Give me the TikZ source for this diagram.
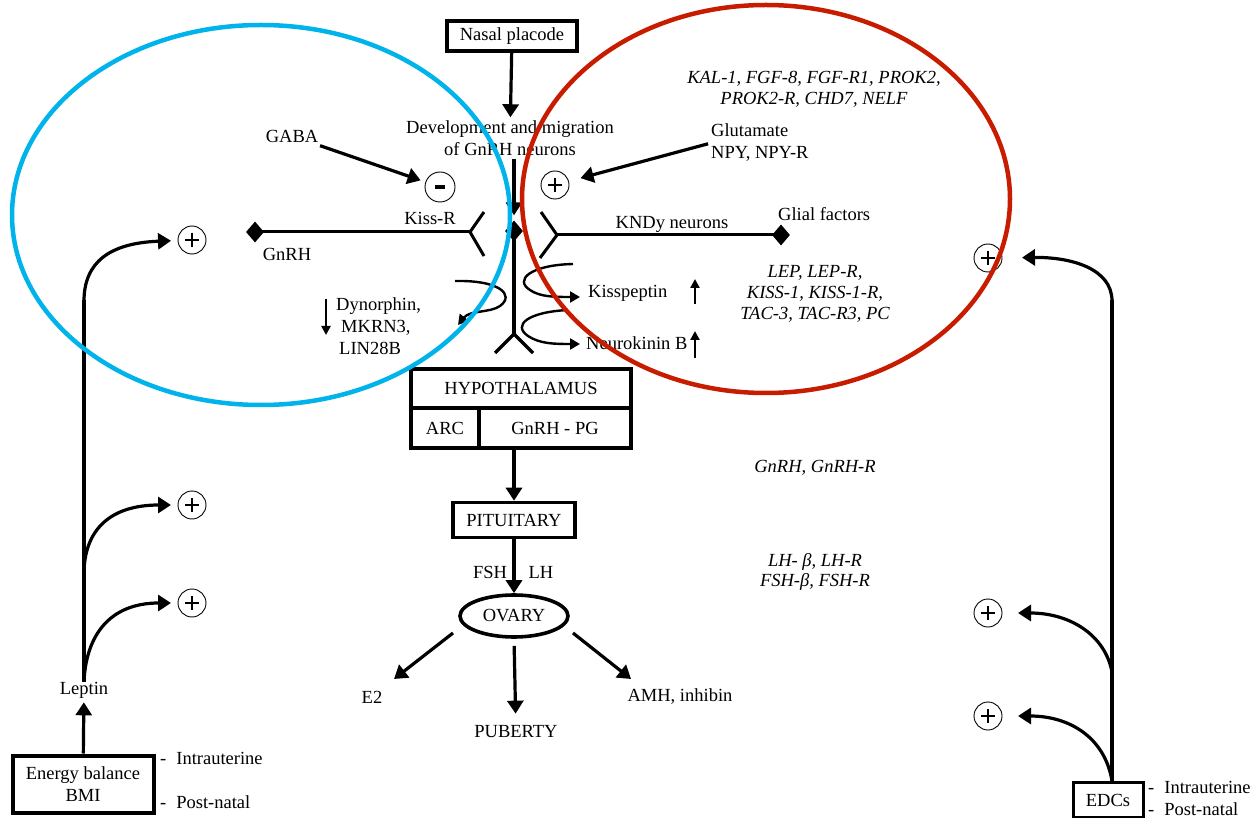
\documentclass[tikz,border=0pt]{standalone}
\usepackage{fontspec}
\setmainfont{Liberation Serif}
\usetikzlibrary{arrows.meta,shapes.geometric}
\definecolor{cyanring}{RGB}{0,180,235}
\definecolor{redring}{RGB}{200,28,0}
\begin{document}
\begin{tikzpicture}[x=1pt,y=-1pt,font=\fontsize{18.5}{22}\selectfont,
  arr/.style={line width=3.2pt,-{Triangle[length=13pt,width=16pt]}},
  sarr/.style={line width=2.6pt,-{Triangle[length=9pt,width=9pt]}},
  ln/.style={line width=3.2pt},
  rec/.style={line width=3pt},
  lbl/.style={inner sep=0pt},
  box/.style={draw,line width=3.6pt,inner sep=0pt},
  dmd/.style={diamond,fill,inner sep=0pt,minimum width=18pt,minimum height=21pt},
  sign/.style={circle,draw,line width=0.9pt,minimum size=28pt,inner sep=0pt},
  plus/.style={sign,path picture={
     \draw[line width=2.6pt] (path picture bounding box.center) +(-7,0) -- +(7,0);
     \draw[line width=2.6pt] (path picture bounding box.center) +(0,-7) -- +(0,7);}},
  minus/.style={sign,minimum size=30pt,path picture={
     \draw[line width=3.2pt] (path picture bounding box.center) +(-5,0) -- +(5,0);}},
  ring/.style={line width=4.5pt}]
\useasboundingbox (0,0) rectangle (1259,818);

% top
\node[box,minimum width=130pt,minimum height=30pt] (nasal) at (512,36) {Nasal placode};
\node[lbl,align=center,inner sep=3pt] (dev) at (510,138) {Development and migration\\of GnRH neurons};
\node[dmd] (cdia) at (514,231) {};
\draw[arr] (nasal) -- (dev);
\draw[arr,shorten >=5pt] (dev.south -| cdia.north) -- (cdia.north);

% central stem and fork
\coordinate (fork) at (514,334);
\coordinate (forkL) at (495,353);
\coordinate (forkR) at (533,353);
\draw[ln] (cdia.center) -- (fork);
\draw[ln] (forkL) -- (fork) -- (forkR);

% signs
\node[minus] (mn) at (440,187) {};
\node[plus] (pl1) at (555,185) {};
\node[lbl] (gaba) at (292,136) {GABA};
\node[lbl,anchor=west,align=left] (glut) at (711,143) {Glutamate\\NPY, NPY-R};
\draw[arr,shorten <=10pt,shorten >=5pt] (gaba) -- (mn);
\draw[arr,shorten <=3pt,shorten >=12pt] (glut.west) -- (pl1);

% left receptor
\node[dmd] (gdia) at (255,232) {};
\coordinate (lrv) at (470,232);
\coordinate (lru) at (484,212);
\coordinate (lrd) at (484,256);
\draw[rec] (gdia.center) -- (lrv);
\draw[rec] (lru) -- (lrv) -- (lrd);
\node[lbl] (kissr) at (430,218) {Kiss-R};
\node[lbl] (gnrh) at (287,254) {GnRH};

% right receptor
\node[dmd] (rdia) at (781,235) {};
\coordinate (rrv) at (557,235);
\coordinate (rru) at (541,212);
\coordinate (rrd) at (540,258);
\draw[rec] (rdia.center) -- (rrv);
\draw[rec] (rru) -- (rrv) -- (rrd);
\node[lbl] (kndy) at (672,224) {KNDy neurons};
\node[lbl,anchor=west] (glial) at (778,214) {Glial factors};

% coils
\coordinate (c1s) at (455,281);
\coordinate (c1e) at (458,325);
\draw[line width=2.4pt,-{Triangle[length=10pt,width=11pt]}] (c1s) .. controls (500,280) and (515,295) .. (500,306) .. controls (490,313) and (470,310) .. (c1e);
\coordinate (c2s) at (573,264);
\coordinate (c2e) at (580,297);
\draw[line width=2.4pt,-{Triangle[length=10pt,width=11pt]}] (c2s) .. controls (530,265) and (514,280) .. (530,290) .. controls (540,297) and (555,297) .. (c2e);
\coordinate (c3s) at (568,310);
\coordinate (c3e) at (580,344);
\draw[line width=2.4pt,-{Triangle[length=10pt,width=11pt]}] (c3s) .. controls (528,312) and (512,325) .. (528,336) .. controls (540,344) and (555,344) .. (c3e);

\node[lbl,anchor=west] (kiss) at (588,293) {Kisspeptin};
\node[lbl,anchor=west] (nkb) at (586,343) {Neurokinin B};
\coordinate (ua1s) at (695,304); \coordinate (ua1e) at (695,279);
\coordinate (ua2s) at (695,358); \coordinate (ua2e) at (695,331);
\draw[sarr] (ua1s) -- (ua1e);
\draw[sarr] (ua2s) -- (ua2e);

\node[lbl,anchor=west,align=left] (dyn) at (336,326) {Dynorphin,\\\hspace{5pt}MKRN3,\\\hspace{3pt}LIN28B};
\coordinate (da1s) at (326,299); \coordinate (da1e) at (326,335);
\draw[sarr] (da1s) -- (da1e);

% italic gene lists
\node[lbl,align=center,font=\fontsize{18.5}{21}\selectfont\itshape] (genes1) at (814,89) {KAL-1, FGF-8, FGF-R1, PROK2,\\PROK2-R, CHD7, NELF};
\node[lbl,align=center,font=\fontsize{18.5}{21}\selectfont\itshape] (genes2) at (815,294) {LEP, LEP-R,\\KISS-1, KISS-1-R,\\TAC-3, TAC-R3, PC};
\node[lbl,font=\fontsize{18.5}{21}\selectfont\itshape] (genes3) at (815,468) {GnRH, GnRH-R};
\node[lbl,align=center,font=\fontsize{18.5}{20}\selectfont\itshape] (genes4) at (815,572) {LH- \textit{β}, LH-R\\FSH-\textit{β}, FSH-R};

% hypothalamus
\node[box,minimum width=220pt,minimum height=39pt] (hyp) at (521,388.5) {HYPOTHALAMUS};
\node[box,minimum width=68pt,minimum height=40pt] (arc) at (445,428) {ARC};
\node[box,minimum width=152pt,minimum height=40pt] (gpg) at (555,428) {GnRH - PG};
\node[box,minimum width=122pt,minimum height=35pt] (pit) at (514,520) {PITUITARY};
\draw[arr] (pit.north |- gpg.south) -- (pit.north);
\node[draw,ellipse,line width=3.6pt,minimum width=108pt,minimum height=42pt,inner sep=0pt] (ovary) at (514,616) {OVARY};
\draw[arr] (pit) -- (ovary);
\node[lbl] (fsh) at (490,572) {FSH};
\node[lbl] (lh) at (541,572) {LH};

\node[lbl] (e2) at (372,697) {E2};
\node[lbl] (pub) at (516,732) {PUBERTY};
\node[lbl] (amh) at (680,697) {AMH, inhibin};
\coordinate (oL) at (453,633); \coordinate (e2in) at (394,679);
\coordinate (oR) at (573,633); \coordinate (amhin) at (631,679);
\draw[arr] (oL) -- (e2in);
\draw[arr,shorten <=7pt,shorten >=12pt] (ovary.south) -- (pub);
\draw[arr] (oR) -- (amhin);

% left side
\node[box,line width=4pt,align=center,minimum width=141pt,minimum height=57pt] (energy) at (83,784) {Energy balance\\BMI};
\node[lbl,anchor=west] (iu1) at (160,758) {-\hspace{10pt}Intrauterine};
\node[lbl,anchor=west] (pn1) at (160,802) {-\hspace{10pt}Post-natal};
\node[lbl] (leptin) at (84,690) {Leptin};
\draw[arr,shorten >=4pt] (energy) -- (leptin);
\node[plus] (lp1) at (192,240) {};
\node[plus] (lp2) at (192,505) {};
\node[plus] (lp3) at (192,603) {};
\draw[ln] (leptin.north) -- (84,300);
\draw[arr,shorten >=21pt] (84,301) .. controls (84,262) and (110,243) .. (lp1.center);
\draw[arr,shorten >=21pt] (84,574) .. controls (84,530) and (110,505) .. (lp2.center);
\draw[arr,shorten >=21pt] (leptin.north) .. controls (86,635) and (110,603) .. (lp3.center);

% right side
\node[box,line width=3pt,minimum width=70pt,minimum height=35pt] (edc) at (1108,800) {EDCs};
\node[lbl,anchor=west] (iu2) at (1148,787) {-\hspace{10pt}Intrauterine};
\node[lbl,anchor=west] (pn2) at (1148,809) {-\hspace{10pt}Post-natal};
\node[plus] (rp1) at (988,258) {};
\node[plus] (rp2) at (988,613) {};
\node[plus] (rp3) at (988,716) {};
\draw[ln] (edc.north -| 1112,0) -- (1112,300);
\draw[arr,shorten >=34pt] (1112,301) .. controls (1112,268) and (1070,257) .. (rp1.center);
\draw[arr,shorten >=30pt] (1112,672) .. controls (1105,635) and (1070,613) .. (rp2.center);
\draw[arr,shorten >=30pt] (1112,781) .. controls (1105,738) and (1070,716) .. (rp3.center);

% rings
\draw[ring,cyanring] (261,215) ellipse [x radius=249, y radius=190];
\draw[ring,redring] (766,199) ellipse [x radius=244, y radius=194];
\end{tikzpicture}
\end{document}
